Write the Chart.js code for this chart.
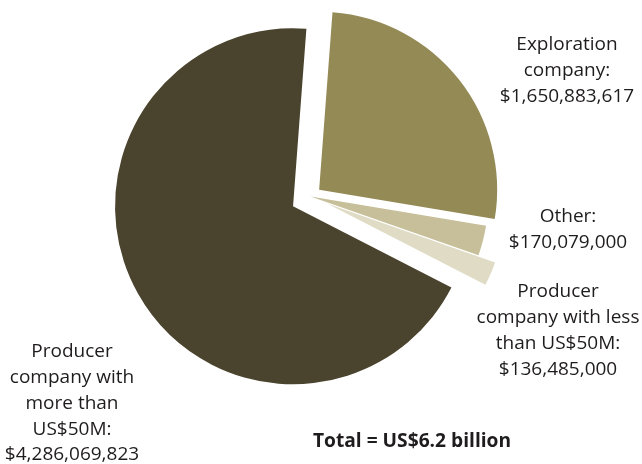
<!DOCTYPE html>
<html>
<head>
<meta charset="utf-8">
<script src="https://cdn.jsdelivr.net/npm/chart.js@4.4.1/dist/chart.umd.min.js"></script>
<style>
  html, body { margin: 0; padding: 0; background: #ffffff; }
  #wrap { width: 642px; height: 464px; position: relative; }
</style>
</head>
<body>
<div id="wrap"><canvas id="chart" width="642" height="464"></canvas></div>
<script>
// Investment by company type (US$)
const categories = [
  ['Exploration', 'company:'],
  ['Other:'],
  ['Producer', 'company with less', 'than US$50M:'],
  ['Producer', 'company with', 'more than', 'US$50M:']
];
const amounts = [1650883617, 170079000, 136485000, 4286069823];

const sliceColors = ['#948a56', '#c6bf99', '#dfdbc4', '#4a432d'];
const textColor = '#1f1c1d';
const fontFamily = '"Open Sans", "Noto Sans", sans-serif';

// Pull-out distance (px) for each slice, measured along its mid-angle
const explodeDistances = [11, 0, 18, 20];
// Anchor of each slice's caption block (centre x, first line y)
const captionAnchors = [
  { x: 567, y: 45 },
  { x: 568, y: 217 },
  { x: 558, y: 292 },
  { x: 72, y: 352 }
];
const captionLineHeight = 25.7;

const money = v => '$' + v.toLocaleString('en-US');
const total = amounts.reduce((a, b) => a + b, 0);
const totalText = 'Total = US$' + (total / 1e9).toFixed(1) + ' billion';

// Shift exploded slices outwards while they are painted
const explodePlugin = {
  id: 'explode',
  beforeDatasetsDraw(chart, args, opts) {
    chart.getDatasetMeta(0).data.forEach((arc, i) => {
      const d = opts.distances[i] || 0;
      const mid = (arc.startAngle + arc.endAngle) / 2;
      arc._dx = Math.cos(mid) * d;
      arc._dy = Math.sin(mid) * d;
      arc.x += arc._dx;
      arc.y += arc._dy;
    });
  },
  afterDatasetsDraw(chart) {
    chart.getDatasetMeta(0).data.forEach(arc => {
      arc.x -= arc._dx || 0;
      arc.y -= arc._dy || 0;
    });
  }
};

// Category captions with their amounts, plus the total line
const captionPlugin = {
  id: 'captions',
  afterDraw(chart, args, opts) {
    const ctx = chart.ctx;
    ctx.save();
    ctx.fillStyle = opts.color;
    ctx.textAlign = 'center';
    ctx.textBaseline = 'middle';
    ctx.font = '19px ' + opts.family;
    chart.data.labels.forEach((lines, i) => {
      const a = opts.anchors[i];
      const all = lines.concat([money(chart.data.datasets[0].data[i])]);
      all.forEach((t, k) => ctx.fillText(t, a.x, a.y + k * opts.lineHeight));
    });
    ctx.font = 'bold 19.2px ' + opts.family;
    ctx.fillText(opts.total, opts.totalAt.x, opts.totalAt.y);
    ctx.restore();
  }
};

new Chart(document.getElementById('chart'), {
  type: 'pie',
  data: {
    labels: categories,
    datasets: [{
      data: amounts,
      backgroundColor: sliceColors,
      borderWidth: 0
    }]
  },
  options: {
    responsive: false,
    devicePixelRatio: 1,
    animation: false,
    rotation: 4.3,
    radius: 178,
    layout: { padding: { left: 0, right: 21, top: 0, bottom: 71 } },
    plugins: {
      legend: { display: false },
      tooltip: { enabled: false },
      explode: { distances: explodeDistances },
      captions: {
        anchors: captionAnchors,
        lineHeight: captionLineHeight,
        color: textColor,
        family: fontFamily,
        total: totalText,
        totalAt: { x: 412, y: 442 }
      }
    }
  },
  plugins: [explodePlugin, captionPlugin]
});
</script>
</body>
</html>
